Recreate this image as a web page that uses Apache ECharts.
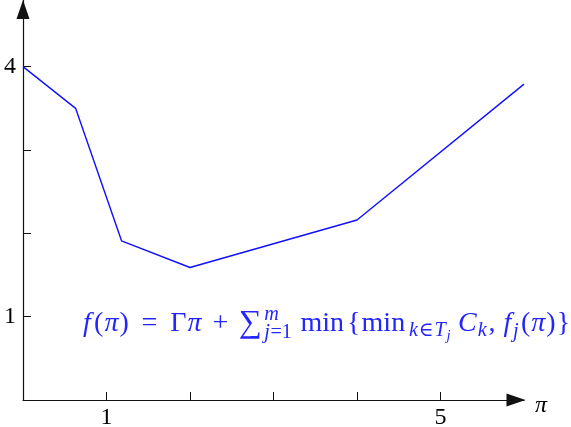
<!DOCTYPE html>
<html>
<head>
<meta charset="utf-8">
<script src="https://cdn.jsdelivr.net/npm/echarts@6/dist/echarts.min.js"></script>
<style>html,body{margin:0;padding:0;background:#fff;}#c{width:571px;height:427px;}</style>
</head>
<body>
<div id="c"></div>
<script>
// ---- data ----
const xValues = [0, 0.63, 1.18, 2, 4, 6];
const yValues = [4, 3.5, 1.91, 1.59, 2.16, 3.79];
const xTicks = [1, 2, 3, 4, 5];
const xTickLabels = [1, 5];
const yTicks = [1, 2, 3, 4];
const yTickLabels = [1, 4];
const xName = 'π';
// formula tokens: [text, italic, level(0 main,1 script,2 scriptscript,3 large op), dy (em, down +), gapBefore (em), stack]
const formulaTokens = [
  ['f',1,0,0,0], ['(',0,0,0,0.08], ['π',1,0,0,0], [')',0,0,0,0],
  ['=',0,0,0,0.42], ['Γ',0,0,0,0.42], ['π',1,0,0,0], ['+',0,0,0,0.36],
  ['∑',0,3,0.04,0.34],
  ['m',1,1,-0.42,0.04,'s'], ['j',1,1,0.22,0,'r'], ['=1',0,1,0.22,0,'e'],
  ['min',0,0,0,0.25], ['{',0,0,0,0], ['min',0,0,0,0],
  ['k',1,1,0.15,0.03], ['∈',0,1,0.15,0], ['T',1,1,0.15,0], ['j',1,2,0.3,0],
  ['C',1,0,0,0.25], ['k',1,1,0.15,0], [',',0,0,0,0.04],
  ['f',1,0,0,0.25], ['j',1,1,0.2,0.02], ['(',0,0,0,0.06], ['π',1,0,0,0], [')',0,0,0,0], ['}',0,0,0,0]
];

// ---- formula layout ----
const FAMILY = "'Liberation Serif','DejaVu Serif',serif";
const MAIN = 28;
const SIZES = [MAIN, MAIN * 0.72, MAIN * 0.52, MAIN * 1.15];
const TRACK = 0.037;
const BLUE_TEXT = '#2424ff';
const mctx = document.createElement('canvas').getContext('2d');
function buildFormula(x0, baseline) {
  const els = [];
  let x = x0, sx = 0, sx1 = 0;
  formulaTokens.forEach(tk => {
    const [t, it, lvl, dy, gap, st] = tk;
    const size = SIZES[lvl];
    x += gap * MAIN;
    if (st === 's') sx = x;
    if (st === 'r') { sx1 = x; x = sx; }
    mctx.font = (it ? 'italic ' : '') + size + 'px ' + FAMILY;
    const w = mctx.measureText(t).width;
    const by = baseline + dy * MAIN;
    els.push({
      type: 'text', x: x, y: by - 0.34 * size,
      style: { text: t, fontFamily: FAMILY, fontSize: size, fontStyle: it ? 'italic' : 'normal',
               fill: BLUE_TEXT, verticalAlign: 'middle', align: 'left' },
      silent: true
    });
    x += w + TRACK * size * t.length;
    if (st === 'e') x = Math.max(x, sx1);
  });
  return els;
}

const chart = echarts.init(document.getElementById('c'));
const axisFont = { fontFamily: FAMILY, fontSize: 24, color: '#000' };
chart.setOption({
  animation: false,
  backgroundColor: '#fff',
  grid: { left: 23, right: 47, top: 0, bottom: 27, containLabel: false, outerBoundsMode: 'none' },
  xAxis: {
    type: 'value', min: 0, max: 6,
    name: xName, nameLocation: 'end', nameGap: 11,
    nameTextStyle: { fontFamily: FAMILY, fontSize: 24, fontStyle: 'italic', color: '#000', verticalAlign: 'top', lineHeight: 11 },
    splitLine: { show: false },
    axisLine: { show: true, onZero: false, symbol: ['none', 'triangle'], symbolSize: [13, 19], symbolOffset: [0, -8],
                lineStyle: { color: '#111', width: 1.2 } },
    axisTick: { show: true, inside: true, length: 8, customValues: xTicks, lineStyle: { color: '#111', width: 1 } },
    axisLabel: Object.assign({ customValues: xTickLabels, margin: 6 }, axisFont)
  },
  yAxis: {
    type: 'value', min: 0, max: 4.8,
    splitLine: { show: false },
    axisLine: { show: true, onZero: false, symbol: ['none', 'triangle'], symbolSize: [13, 19], symbolOffset: [0, -9.5],
                lineStyle: { color: '#111', width: 1.2 } },
    axisTick: { show: true, inside: true, length: 8, customValues: yTicks, lineStyle: { color: '#111', width: 1 } },
    axisLabel: Object.assign({ customValues: yTickLabels, margin: 7 }, axisFont)
  },
  series: [{
    type: 'line',
    data: xValues.map((v, i) => [v, yValues[i]]),
    symbol: 'none',
    lineStyle: { color: '#1010ff', width: 1.4 },
    clip: false
  }],
  graphic: buildFormula(83, 333)
});
</script>
</body>
</html>
